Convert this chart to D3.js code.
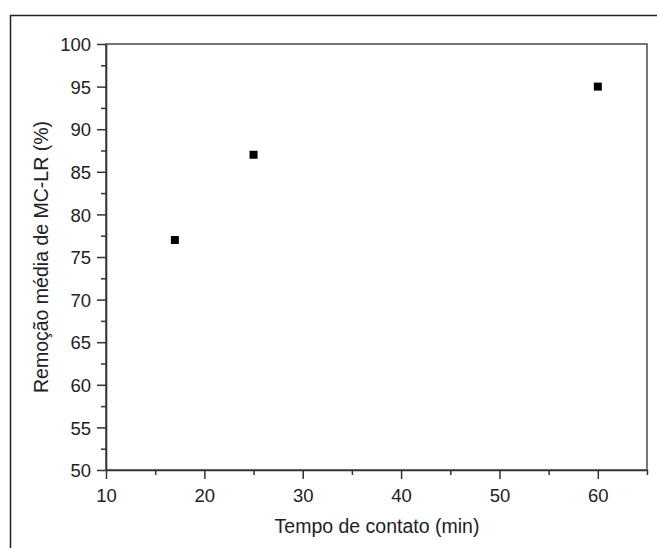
<!DOCTYPE html>
<html>
<head>
<meta charset="utf-8">
<script src="https://cdn.jsdelivr.net/npm/d3@7"></script>
<style>
  body { margin: 0; background: #fff; }
  svg text { font-family: "Liberation Sans", Arial, sans-serif; fill: #222; }
</style>
</head>
<body>
<div id="chart"></div>
<script>
// data
const tempo = [17, 25, 60];
const remocao = [77, 87, 95];
const xTicks = [10, 20, 30, 40, 50, 60];
const yTicks = [50, 55, 60, 65, 70, 75, 80, 85, 90, 95, 100];

const width = 657;
const height = 548;
const margin = { top: 44, right: 10, bottom: 78, left: 106 };

const svg = d3.select("#chart")
  .append("svg")
  .attr("width", width)
  .attr("height", height);

// outer frame (top and left edges only visible)
svg.append("path")
  .attr("d", `M10.5,${height} L10.5,15.5 L${width},15.5`)
  .attr("fill", "none")
  .attr("stroke", "#222")
  .attr("stroke-width", 1.5);

const x = d3.scaleLinear().domain([10, 65]).range([margin.left, width - margin.right]);
const y = d3.scaleLinear().domain([50, 100]).range([height - margin.bottom, margin.top]);

// plot box
svg.append("rect")
  .attr("x", x(10))
  .attr("y", y(100))
  .attr("width", x(65) - x(10))
  .attr("height", y(50) - y(100))
  .attr("fill", "none")
  .attr("stroke", "#555")
  .attr("stroke-width", 1.6);

// x axis with minor ticks
const xAxis = svg.append("g").attr("transform", `translate(0,${y(50)})`);
xAxis.call(d3.axisBottom(x).tickValues(d3.range(10, 66, 5)).tickSize(0).tickFormat(""));
xAxis.selectAll(".tick").each(function (d) {
  const t = d3.select(this);
  const major = xTicks.includes(d);
  t.select("line").attr("y2", major ? 9 : 5);
  if (major) {
    t.select("text").text(d).attr("dy", null).attr("y", 32).style("font-size", "18.5px");
  }
});

// y axis with minor ticks
const yMinor = d3.range(50, 101, 2.5);
const yAxis = svg.append("g").attr("transform", `translate(${x(10)},0)`);
yAxis.call(d3.axisLeft(y).tickValues(yMinor).tickSize(0).tickFormat(""));
yAxis.selectAll(".tick").each(function (d) {
  const t = d3.select(this);
  const major = yTicks.includes(d);
  t.select("line").attr("x2", major ? -9 : -5);
  if (major) {
    t.select("text").text(d).attr("x", -15).attr("dy", "0.36em").style("font-size", "18.5px");
  }
});

svg.selectAll(".domain").attr("stroke", "#333").attr("stroke-width", 1.6);
svg.selectAll(".tick line").attr("stroke", "#333").attr("stroke-width", 1.5);

// points
const pts = tempo.map((t, i) => ({ t, r: remocao[i] }));
svg.append("g")
  .selectAll("rect")
  .data(pts)
  .join("rect")
  .attr("x", (d) => x(d.t) - 4)
  .attr("y", (d) => y(d.r) - 4)
  .attr("width", 8)
  .attr("height", 8)
  .attr("fill", "#000");

// axis titles
svg.append("text")
  .attr("x", (x(10) + x(65)) / 2 + 0.5)
  .attr("y", 533)
  .attr("text-anchor", "middle")
  .style("font-size", "19.5px")
  .text("Tempo de contato (min)");

svg.append("text")
  .attr("transform", `translate(48,${(y(50) + y(100)) / 2}) rotate(-90)`)
  .attr("text-anchor", "middle")
  .style("font-size", "19.5px")
  .text("Remoção média de MC-LR (%)");
</script>
</body>
</html>
